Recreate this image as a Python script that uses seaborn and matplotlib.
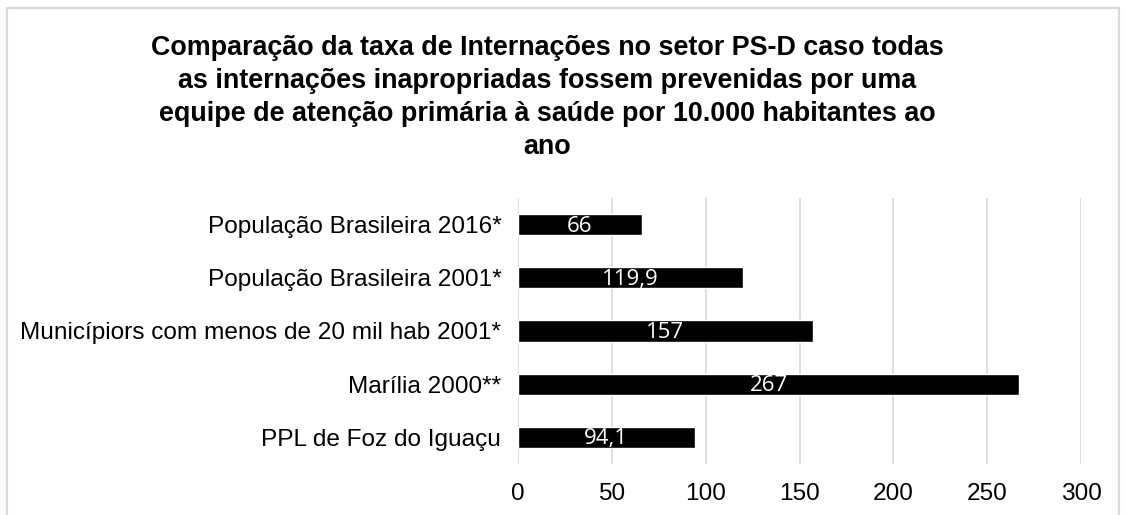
import numpy as np
import pandas as pd
import seaborn as sns
import matplotlib.pyplot as plt
from matplotlib.patches import Rectangle

categories = ["População Brasileira 2016*", "População Brasileira 2001*",
              "Municípiors com menos de 20 mil hab 2001*", "Marília 2000**",
              "PPL de Foz do Iguaçu"]
values = [66, 119.9, 157, 267, 94.1]
value_labels = ["66", "119,9", "157", "267", "94,1"]
x_ticks = [0, 50, 100, 150, 200, 250, 300]

title = ("Comparação da taxa de Internações no setor PS-D caso todas\n"
         "as internações inapropriadas fossem prevenidas por uma\n"
         "equipe de atenção primária à saúde por 10.000 habitantes ao\n"
         "ano")

sns.set_style("white")
plt.rcParams['font.family'] = ['Liberation Sans', 'DejaVu Sans']

df = pd.DataFrame({"cat": categories, "val": values})

fig = plt.figure(figsize=(11.26, 5.15), dpi=100)
fig.patches.append(Rectangle((7 / 1126, -0.1), 1112 / 1126, 1 - 8 / 515 + 0.1,
                             transform=fig.transFigure, fill=False,
                             edgecolor='#d9d9d9', linewidth=1.5))

ax = fig.add_axes([518 / 1126, 1 - 464 / 515, 563 / 1126, 266 / 515])
sns.barplot(data=df, x="val", y="cat", color="black", width=0.4,
            saturation=1, ax=ax)

ax.set_xlim(0, 300)
ax.set_xticks(x_ticks)
ax.xaxis.grid(True, color='#d9d9d9', linewidth=1.2)
ax.set_axisbelow(True)
for s in ax.spines.values():
    s.set_visible(False)
ax.set_xlabel("")
ax.set_ylabel("")
ax.tick_params(axis='both', length=0, labelsize=17.6, colors='black')
ax.tick_params(axis='x', pad=14)
ax.tick_params(axis='y', pad=12)

for i, (v, lab) in enumerate(zip(values, value_labels)):
    ax.text(v / 2, i + 0.03, lab, color='white', ha='center', va='center',
            fontsize=16, family=['Open Sans', 'DejaVu Sans'])

fig.text(547 / 1126, 1 - 97.5 / 515, title, ha='center', va='center',
         fontsize=19.4, fontweight='bold', linespacing=1.36, color='black')

fig.savefig("out.png", dpi=100)
